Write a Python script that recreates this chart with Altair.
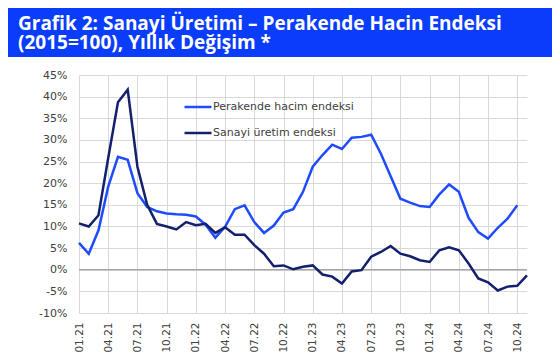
import altair as alt
import pandas as pd

# ---- data ----
months = [f"{m:02d}.{y % 100:02d}" for y in range(2021, 2025) for m in range(1, 13)][:47]
tick_labels = months[::3]

retail = [6.2, 3.7, 9.1, 19.2, 26.1, 25.4, 17.7, 14.5, 13.5, 13.0, 12.8, 12.7,
          12.3, 10.4, 7.4, 9.9, 14.0, 14.9, 11.0, 8.5, 10.2, 13.2, 14.0, 18.0,
          23.8, 26.5, 28.9, 27.9, 30.5, 30.7, 31.2, 26.8, 21.6, 16.4, 15.5, 14.7,
          14.5, 17.4, 19.7, 18.0, 12.0, 8.7, 7.2, 9.7, 11.8, 14.9]
industry = [10.7, 10.0, 12.6, 25.8, 38.7, 41.6, 23.8, 15.0, 10.6, 10.0, 9.3, 11.0,
            10.3, 10.6, 8.5, 9.8, 8.1, 8.1, 5.7, 3.7, 0.8, 1.0, 0.1, 0.7,
            1.0, -1.1, -1.6, -3.2, -0.4, -0.1, 3.0, 4.1, 5.5, 3.7, 3.1, 2.2,
            1.8, 4.5, 5.2, 4.5, 1.45, -2.0, -2.9, -4.8, -3.9, -3.7, -1.3]

series_names = ["Perakende hacim endeksi", "Sanayi üretim endeksi"]
series_colors = ["#1f4bff", "#13206c"]
y_ticks = list(range(-10, 50, 5))

title_line1 = "Grafik 2: Sanayi Üretimi – Perakende Hacin Endeksi"
title_line2 = "(2015=100), Yıllık Değişim *"
title_bg = "#0a3cfc"

rows = []
for name, vals in zip(series_names, [retail, industry]):
    for m, v in zip(months, vals):
        rows.append({"month": m, "series": name, "value": v})
df = pd.DataFrame(rows)
one = pd.DataFrame({"z": [0]})

FONT = "DejaVu Sans"
GRID = "#d9d9d9"

y_axis = alt.Axis(values=y_ticks, labelExpr="datum.value + '%'", ticks=False,
                  domain=False, gridColor=GRID, labelPadding=12, labelOverlap=False,
                  labelFont=FONT, labelFontSize=11, labelColor="#404040")
y_scale = alt.Scale(domain=[-10, 45], nice=False, zero=False)

lines = alt.Chart(df).mark_line(strokeWidth=2.5).encode(
    x=alt.X("month:N", sort=months,
            scale=alt.Scale(type="point", domain=months, padding=0),
            axis=alt.Axis(values=tick_labels, labelAngle=270, grid=True, gridColor=GRID,
                          domain=False, ticks=False, labelPadding=9, labelOverlap=False,
                          labelFont=FONT, labelFontSize=10.5, labelColor="#404040"),
            title=None),
    y=alt.Y("value:Q", scale=y_scale, axis=y_axis, title=None),
    color=alt.Color("series:N",
                    scale=alt.Scale(domain=series_names, range=series_colors),
                    legend=alt.Legend(orient="none", legendX=104, legendY=17, title=None,
                                      symbolType="stroke", symbolSize=729,
                                      symbolStrokeWidth=2.5, labelFont=FONT,
                                      labelFontSize=11, labelColor="#404040",
                                      rowPadding=6, padding=0, labelOffset=0)),
    detail="series:N",
)

zero = alt.Chart(pd.DataFrame({"value": [0]})).mark_rule(color="#8c8c8c", strokeWidth=1).encode(
    y=alt.Y("value:Q", scale=y_scale, axis=y_axis, title=None))

bg = alt.Chart(one).mark_rect(color=title_bg).encode(
    x=alt.value(-71), x2=alt.value(473), y=alt.value(-67), y2=alt.value(-18))

t1 = alt.Chart(one).mark_text(align="left", baseline="alphabetic", font="Open Sans",
                              fontWeight="bold", fontSize=19, color="white").encode(
    x=alt.value(-61), y=alt.value(-45), text=alt.value(title_line1))
t2 = alt.Chart(one).mark_text(align="left", baseline="alphabetic", font="Open Sans",
                              fontWeight="bold", fontSize=19, color="white").encode(
    x=alt.value(-61), y=alt.value(-26), text=alt.value(title_line2))

chart = alt.layer(zero, lines, bg, t1, t2).properties(
    width=448, height=238,
    autosize=alt.AutoSizeParams(type="none"),
    padding={"left": 71, "top": 67, "right": 25, "bottom": 39},
    background="white",
).configure_view(stroke=None)

chart.save("out.html", embed_options={"renderer": "svg", "actions": False})
